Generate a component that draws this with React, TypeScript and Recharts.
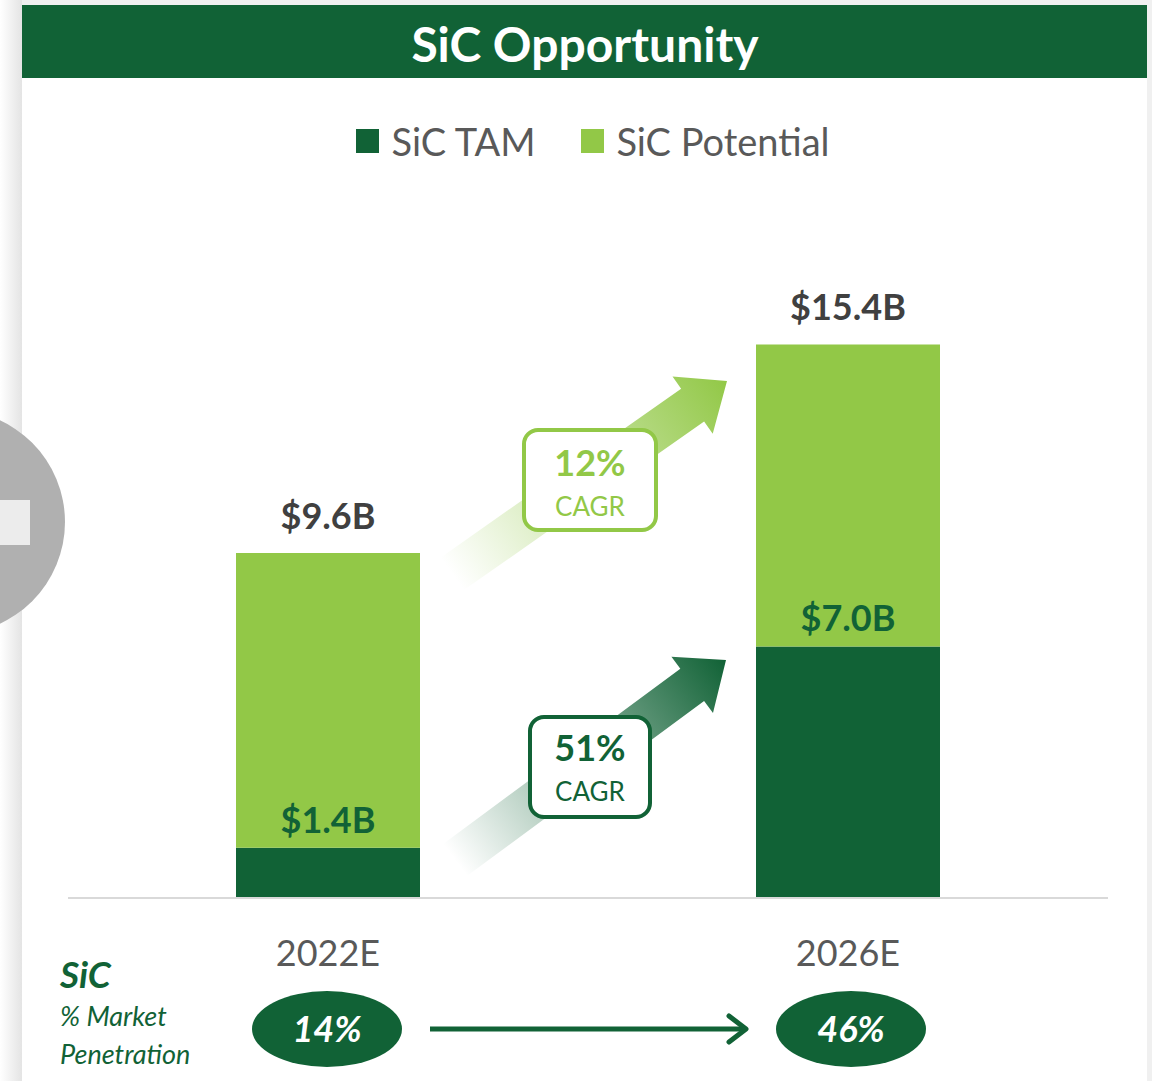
import React from 'react';
import { BarChart, Bar, XAxis, YAxis, LabelList, Legend, Customized } from 'recharts';

const categories = ['2022E', '2026E'];
const tamValues = [1.4, 7.0];
const totalValues = [9.6, 15.4];
const seriesNames = ['SiC TAM', 'SiC Potential'];
const cagrLabels = ['12%', '51%'];
const penetrationLabels = ['14%', '46%'];

const DARK = '#116236';
const LIGHT = '#92c847';
const FONT = "Lato, 'Open Sans', sans-serif";

const data = categories.map((c, i) => ({
  name: c,
  tam: tamValues[i],
  potential: +(totalValues[i] - tamValues[i]).toFixed(2),
  total: totalValues[i],
}));

const fmt = (v: any) => `$${Number(v).toFixed(1)}B`;

function Arrow({ x1, y1, x2, y2, color, id }: any) {
  const len = Math.hypot(x2 - x1, y2 - y1);
  const ang = (Math.atan2(y2 - y1, x2 - x1) * 180) / Math.PI;
  const shaft = 20;
  const head = 35;
  const headLen = 42;
  const pts = [
    [0, -shaft],
    [len - headLen, -shaft],
    [len - headLen, -head],
    [len, 0],
    [len - headLen, head],
    [len - headLen, shaft],
    [0, shaft],
  ]
    .map((p) => p.join(','))
    .join(' ');
  return (
    <g transform={`translate(${x1},${y1}) rotate(${ang})`}>
      <defs>
        <linearGradient id={id} gradientUnits="userSpaceOnUse" x1={0} y1={0} x2={len} y2={0}>
          <stop offset="0" stopColor={color} stopOpacity={0} />
          <stop offset="1" stopColor={color} stopOpacity={1} />
        </linearGradient>
      </defs>
      <polygon points={pts} fill={`url(#${id})`} />
    </g>
  );
}

function Decor() {
  return (
    <g>
      <Arrow x1={452} y1={574} x2={727} y2={381} color={LIGHT} id="arrUp" />
      <Arrow x1={455} y1={860} x2={726} y2={660} color={DARK} id="arrDown" />
      <rect x={524} y={430} width={132} height={100} rx={14} fill="#fff" stroke={LIGHT} strokeWidth={4} />
      <text x={590} y={476} textAnchor="middle" fontFamily={FONT} fontWeight={700} fontSize={36} fill={LIGHT}>
        {cagrLabels[0]}
      </text>
      <text x={590} y={516} textAnchor="middle" fontFamily={FONT} fontSize={26} fill={LIGHT}>
        CAGR
      </text>
      <rect x={530} y={717} width={120} height={100} rx={14} fill="#fff" stroke={DARK} strokeWidth={4} />
      <text x={590} y={761} textAnchor="middle" fontFamily={FONT} fontWeight={700} fontSize={36} fill={DARK}>
        {cagrLabels[1]}
      </text>
      <text x={590} y={801} textAnchor="middle" fontFamily={FONT} fontSize={26} fill={DARK}>
        CAGR
      </text>

      <text x={60} y={988} fontFamily={FONT} fontWeight={700} fontStyle="italic" fontSize={37} fill={DARK}>
        SiC
      </text>
      <text x={60} y={1026} fontFamily={FONT} fontStyle="italic" fontSize={27} fill={DARK}>
        % Market
      </text>
      <text x={60} y={1064} fontFamily={FONT} fontStyle="italic" fontSize={27} fill={DARK}>
        Penetration
      </text>

      <ellipse cx={327} cy={1029} rx={75} ry={38} fill={DARK} />
      <text x={327} y={1042} textAnchor="middle" fontFamily={FONT} fontWeight={700} fontStyle="italic" fontSize={36} fill="#fff">
        {penetrationLabels[0]}
      </text>
      <ellipse cx={851} cy={1029} rx={75} ry={38} fill={DARK} />
      <text x={851} y={1042} textAnchor="middle" fontFamily={FONT} fontWeight={700} fontStyle="italic" fontSize={36} fill="#fff">
        {penetrationLabels[1]}
      </text>
      <line x1={430} y1={1029} x2={745} y2={1029} stroke={DARK} strokeWidth={5} />
      <polyline points="729,1016 746,1029 729,1042" fill="none" stroke={DARK} strokeWidth={5} strokeLinecap="round" strokeLinejoin="round" />
    </g>
  );
}

function LegendContent() {
  const colors = [DARK, LIGHT];
  return (
    <div style={{ display: 'flex', justifyContent: 'center', alignItems: 'center', width: 1152, paddingLeft: 34, boxSizing: 'border-box' }}>
      {seriesNames.map((n, i) => (
        <div key={n} style={{ display: 'flex', alignItems: 'center', marginRight: i === 0 ? 46 : 0 }}>
          <div style={{ width: 23, height: 24, background: colors[i], marginRight: 12 }} />
          <span style={{ fontFamily: FONT, fontSize: 38, color: '#595959', lineHeight: '44px' }}>{n}</span>
        </div>
      ))}
    </div>
  );
}

export default function App() {
  return (
    <div style={{ position: 'absolute', left: 0, top: 0, width: 1152, height: 1081, background: '#fff', overflow: 'hidden' }}>
      <svg width={1152} height={1081} style={{ position: 'absolute', left: 0, top: 0 }}>
        <defs>
          <linearGradient id="shadowL" x1="0" x2="1" y1="0" y2="0">
            <stop offset="0" stopColor="#ffffff" />
            <stop offset="1" stopColor="#e4e4e4" />
          </linearGradient>
        </defs>
        <rect x={0} y={0} width={1152} height={1081} fill="#f0f0f0" />
        <rect x={0} y={0} width={22} height={1081} fill="url(#shadowL)" />
        <rect x={22} y={5} width={1125} height={1076} fill="#fff" />
        <rect x={22} y={5} width={1125} height={73} fill={DARK} />
        <text x={585} y={62} textAnchor="middle" fontFamily={FONT} fontWeight={700} fontSize={48} fill="#fff">
          SiC Opportunity
        </text>
        <circle cx={-47} cy={522} r={112} fill="#b0b0b0" />
        <rect x={0} y={500} width={30} height={45} fill="#ececec" />
      </svg>
      <div style={{ position: 'absolute', left: 0, top: 0 }}>
        <BarChart width={1152} height={1081} data={data} margin={{ top: 251, right: 44, left: 68, bottom: 153 }} barCategoryGap={0}>
          <Customized component={<Decor />} />
          <YAxis hide domain={[0, 18]} />
          <XAxis
            dataKey="name"
            height={30}
            tickLine={false}
            axisLine={{ stroke: '#d9d9d9', strokeWidth: 2 }}
            tickMargin={36}
            tick={{ fontFamily: FONT, fontSize: 36, fill: '#595959' }}
          />
          <Legend
            verticalAlign="middle"
            align="center"
            layout="horizontal"
            content={<LegendContent />}
            wrapperStyle={{ top: 119, left: 0, width: 1152 }}
          />
          <Bar dataKey="tam" name={seriesNames[0]} stackId="a" fill={DARK} barSize={184} isAnimationActive={false}>
            <LabelList dataKey="tam" position="top" offset={15} formatter={fmt} fill={DARK} fontFamily={FONT} fontWeight={700} fontSize={36} />
          </Bar>
          <Bar dataKey="potential" name={seriesNames[1]} stackId="a" fill={LIGHT} barSize={184} isAnimationActive={false}>
            <LabelList dataKey="total" position="top" offset={24} formatter={fmt} fill="#404040" fontFamily={FONT} fontWeight={700} fontSize={36} />
          </Bar>
        </BarChart>
      </div>
    </div>
  );
}
